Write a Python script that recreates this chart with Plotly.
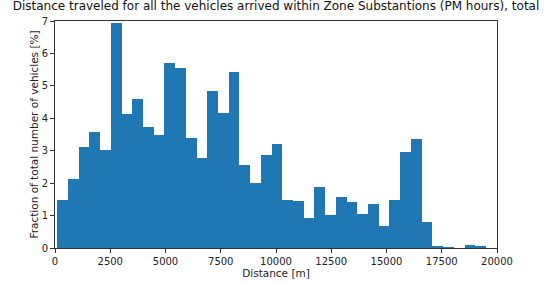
import plotly.graph_objects as go

# Histogram data (fraction of total vehicles, %)
bin_start = 100
bin_width = 485
fractions = [1.47, 2.14, 3.12, 3.58, 3.02, 6.93, 4.12, 4.58, 3.72, 3.48,
             5.70, 5.56, 3.38, 2.78, 4.85, 4.15, 5.42, 2.57, 2.01, 2.86,
             3.22, 1.47, 1.44, 0.91, 1.88, 1.01, 1.56, 1.42, 1.04, 1.35,
             0.68, 1.49, 2.95, 3.35, 0.81, 0.06, 0.03, 0.0, 0.08, 0.05]
x_ticks = [0, 2500, 5000, 7500, 10000, 12500, 15000, 17500, 20000]
y_ticks = [0, 1, 2, 3, 4, 5, 6, 7]

centers = [bin_start + bin_width * (i + 0.5) for i in range(len(fractions))]

fig = go.Figure(go.Bar(
    x=centers, y=fractions, width=[bin_width] * len(fractions),
    marker=dict(color="#1f77b4", line=dict(width=0)),
))

axis_common = dict(
    showline=True, linecolor="#333", linewidth=1, mirror=True,
    ticks="outside", ticklen=4, tickcolor="#333", showgrid=False, zeroline=False,
    automargin=False,
    tickfont=dict(size=10, color="#222", family="DejaVu Sans"),
)
fig.update_layout(
    width=552, height=285,
    margin=dict(l=55, r=55, t=21, b=37),
    paper_bgcolor="white", plot_bgcolor="white",
    font=dict(family="DejaVu Sans", color="#222"),
    title=dict(text="Distance traveled for all the vehicles arrived within Zone Substantions (PM hours), total",
               x=0.5, xanchor="center", y=0.995, yanchor="top",
               font=dict(size=12, color="#111")),
    bargap=0, showlegend=False,
    xaxis=dict(range=[0, 20000], tickvals=x_ticks, ticktext=[str(v) for v in x_ticks],
               title=dict(text="Distance [m]", font=dict(size=10.5), standoff=2), **axis_common),
    yaxis=dict(range=[0, 7], tickvals=y_ticks,
               title=dict(text="Fraction of total number of vehicles [%]", font=dict(size=10.5), standoff=0),
               **axis_common),
)
fig.write_html("out.html", config={"displayModeBar": False},
               post_script="document.body.style.margin='0px';")
